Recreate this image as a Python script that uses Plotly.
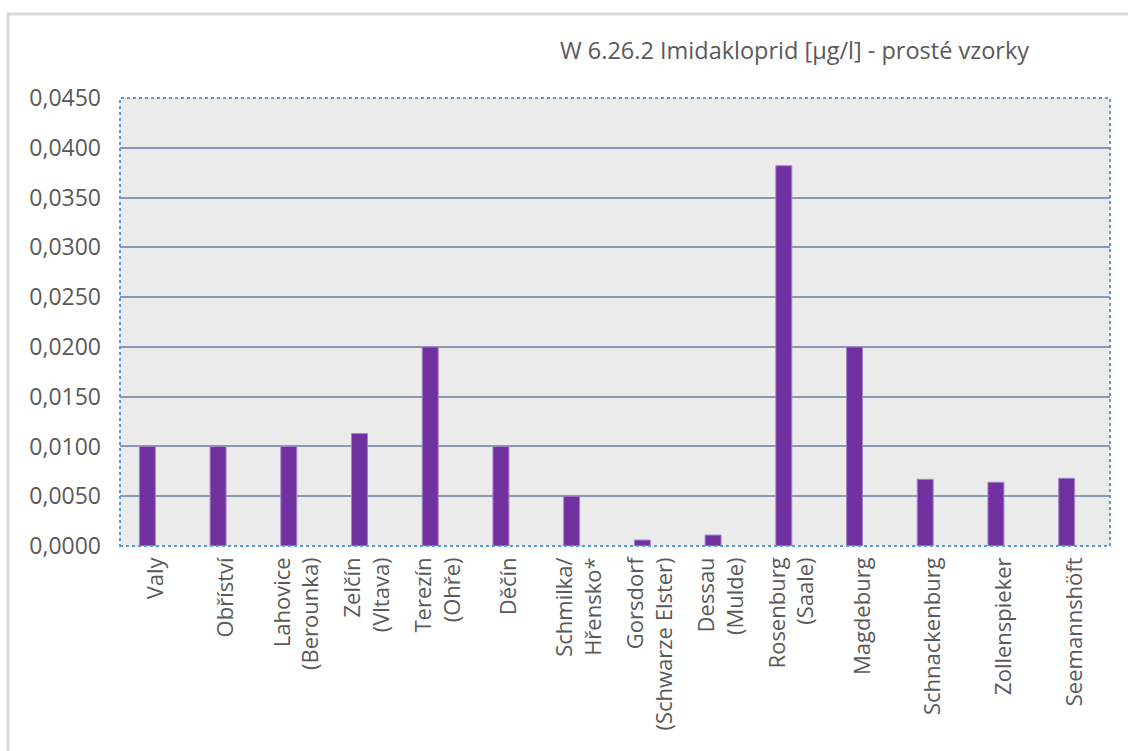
import plotly.graph_objects as go

categories = ["Valy", "Obříství", "Lahovice<br>(Berounka)", "Zelčín<br>(Vltava)",
              "Terezín<br>(Ohře)", "Děčín", "Schmilka/<br>Hřensko*",
              "Gorsdorf<br>(Schwarze Elster)", "Dessau<br>(Mulde)",
              "Rosenburg<br>(Saale)", "Magdeburg", "Schnackenburg",
              "Zollenspieker", "Seemannshöft"]
values = [0.0100, 0.0100, 0.0100, 0.0113, 0.0200, 0.0100, 0.0050,
          0.0006, 0.0011, 0.0382, 0.0200, 0.0067, 0.0064, 0.0068]
y_ticks = [0.0, 0.005, 0.010, 0.015, 0.020, 0.025, 0.030, 0.035, 0.040, 0.045]
title_text = "W 6.26.2 Imidakloprid [µg/l] - prosté vzorky"

W, H = 1128, 751
L, R, T, B = 120, 18, 98, 205
pw, ph = W - L - R, H - T - B

fig = go.Figure()
fig.add_trace(go.Bar(
    x=list(range(len(categories))), y=values,
    width=0.226, offset=-0.226,
    marker=dict(color="#7030a0", line=dict(color="#a585c8", width=1)),
))

font_family = "Open Sans"
fig.update_layout(
    width=W, height=H,
    margin=dict(l=L, r=R, t=T, b=B),
    paper_bgcolor="white", plot_bgcolor="#ebebeb",
    separators=", ",
    showlegend=False,
    font=dict(family=font_family, color="#595959", size=22),
    xaxis=dict(
        tickmode="array", tickvals=list(range(len(categories))), ticktext=categories,
        range=[-0.5, len(categories) - 0.5],
        tickangle=-90, showgrid=False, zeroline=False, showline=False,
        ticks="", ticklabelstandoff=6,
        tickfont=dict(family=font_family, size=22, color="#595959"),
    ),
    yaxis=dict(
        range=[0, 0.045], tickvals=y_ticks, tickformat=".4f",
        showgrid=True, gridcolor="#8899b2", gridwidth=2,
        zeroline=False, showline=False, ticks="", ticklabelstandoff=18,
        tickfont=dict(family=font_family, size=23, color="#595959"),
    ),
    shapes=[
        dict(type="rect", xref="paper", yref="paper",
             x0=(8 - L) / pw, x1=1.1, y0=-0.6, y1=(H - B - 14) / ph,
             line=dict(color="#d9d9d9", width=3), layer="below"),
        dict(type="rect", xref="paper", yref="paper", x0=0, x1=1, y0=0, y1=1,
             line=dict(color="#5b9bd5", width=2, dash="dot"), layer="above"),
    ],
    annotations=[
        dict(text=title_text, xref="paper", yref="paper",
             x=(794 - L) / pw, y=(H - B - 50) / ph, xanchor="center", yanchor="middle",
             showarrow=False, font=dict(family=font_family, size=23.5, color="#595959")),
    ],
)

fig.write_html("out.html")
